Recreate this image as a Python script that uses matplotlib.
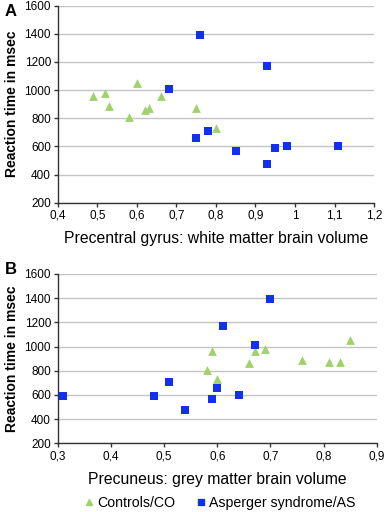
import matplotlib
matplotlib.use("Agg")
import matplotlib.pyplot as plt
from matplotlib.ticker import FuncFormatter, MultipleLocator
from matplotlib.lines import Line2D

plt.rcParams['font.family'] = ['Liberation Sans', 'DejaVu Sans']

# Panel A: precentral gyrus white matter
a_co_x = [0.49, 0.52, 0.53, 0.58, 0.60, 0.62, 0.63, 0.66, 0.75, 0.80]
a_co_y = [960, 980, 890, 810, 1050, 860, 870, 960, 870, 730]
a_as_x = [0.76, 0.93, 0.68, 0.75, 0.78, 0.85, 0.93, 0.95, 0.98, 1.11]
a_as_y = [1390, 1170, 1010, 660, 710, 565, 475, 590, 600, 600]

# Panel B: precuneus grey matter
b_co_x = [0.59, 0.58, 0.60, 0.66, 0.67, 0.69, 0.76, 0.81, 0.83, 0.85]
b_co_y = [960, 810, 730, 860, 960, 980, 890, 870, 870, 1050]
b_as_x = [0.70, 0.61, 0.67, 0.51, 0.60, 0.31, 0.48, 0.54, 0.59, 0.64]
b_as_y = [1390, 1170, 1010, 710, 660, 590, 595, 475, 565, 600]

green = '#9fd26a'
blue = '#1230f2'


def comma(v, pos):
    s = ('%.1f' % v).rstrip('0').rstrip('.')
    return s.replace('.', ',')


def style(ax, xlim, xlabel):
    ax.set_xlim(*xlim)
    ax.set_ylim(200, 1600)
    ax.xaxis.set_major_locator(MultipleLocator(0.1))
    ax.yaxis.set_major_locator(MultipleLocator(200))
    ax.xaxis.set_major_formatter(FuncFormatter(comma))
    ax.grid(axis='y', color='#c4c4c4', linewidth=1.0)
    ax.set_axisbelow(True)
    for s in ['top', 'right']:
        ax.spines[s].set_visible(False)
    for s in ['left', 'bottom']:
        ax.spines[s].set_color('#333333')
        ax.spines[s].set_linewidth(1.0)
    ax.tick_params(labelsize=8.5, length=3, width=1, color='#333333', pad=2)
    ax.set_xlabel(xlabel, fontsize=11.3, labelpad=7)
    ax.set_ylabel('Reaction time in msec', fontsize=10, fontweight='bold', labelpad=4)


fig = plt.figure(figsize=(3.86, 5.12), dpi=100)
axA = fig.add_axes([0.150, 0.604, 0.819, 0.385])
axB = fig.add_axes([0.150, 0.134, 0.826, 0.331])

axA.scatter(a_co_x, a_co_y, marker='^', s=40, color=green, linewidths=0, zorder=3)
axA.scatter(a_as_x, a_as_y, marker='s', s=30, color=blue, linewidths=0, zorder=3)
style(axA, (0.4, 1.2), 'Precentral gyrus: white matter brain volume')

axB.scatter(b_co_x, b_co_y, marker='^', s=40, color=green, linewidths=0, zorder=3)
axB.scatter(b_as_x, b_as_y, marker='s', s=30, color=blue, linewidths=0, zorder=3)
style(axB, (0.3, 0.9), 'Precuneus: grey matter brain volume')

fig.text(5 / 386, 1 - 11 / 512, 'A', fontsize=12, fontweight='bold', va='center', ha='left')
fig.text(5 / 386, 1 - 270 / 512, 'B', fontsize=12, fontweight='bold', va='center', ha='left')

handles = [Line2D([], [], marker='^', color=green, linestyle='none', markersize=5),
           Line2D([], [], marker='s', color=blue, linestyle='none', markersize=4.5)]
fig.legend(handles, ['Controls/CO', 'Asperger syndrome/AS'], loc='center',
           bbox_to_anchor=(0.57, 0.018), ncol=2, frameon=False, fontsize=10.2,
           handlelength=0.6, handletextpad=0.3, columnspacing=1.5)

fig.savefig('out.png', dpi=100)
